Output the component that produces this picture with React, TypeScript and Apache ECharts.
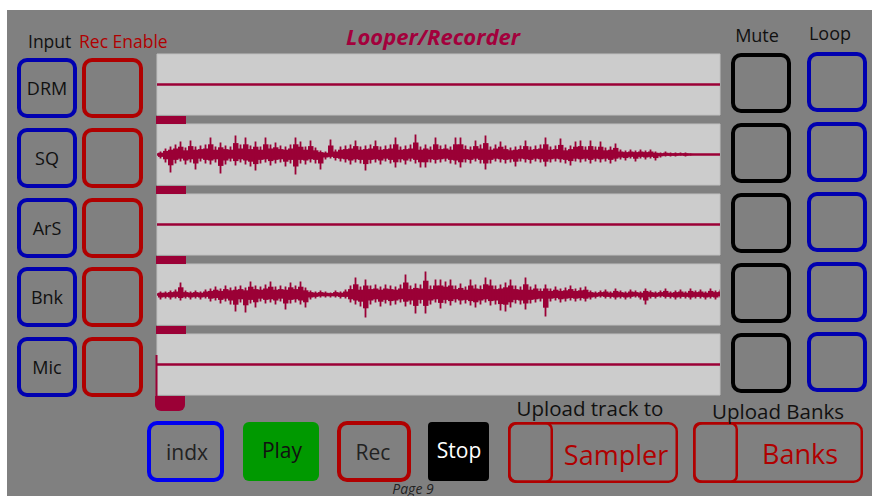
import React, { useEffect, useRef } from "react";
import * as echarts from "echarts";

// ---- data ----
const inputLabels = ["DRM", "SQ", "ArS", "Bnk", "Mic"];
const trackSpan = [-0.7, 111.9]; // bins shown per track

// SQ track waveform: upper peaks / lower troughs per bin
const sqPeaks = [
  3, 6, 8, 10, 13, 7, 14, 8, 9, 10, 17, 8, 12, 9, 8, 19, 10, 17, 9, 13,
  8, 17, 10, 12, 9, 8, 10, 17, 13, 8, 14, 7, 4, 3, 15, 5, 8, 9, 10, 14,
  8, 9, 10, 14, 8, 9, 10, 17, 8, 9, 10, 20, 8, 10, 8, 17, 9, 10, 8, 17,
  17, 9, 8, 14, 10, 19, 8, 10, 13, 9, 7, 8, 9, 14, 8, 9, 10, 17, 8, 9,
  16, 7, 9, 13, 14, 8, 14, 8, 13, 7, 8, 11, 5, 4, 5, 4, 5, 4, 5, 3,
  2, 3, 2, 2, 2, 2, 1,
];
const sqTroughs = [
  4, 8, 18, 9, 7, 10, 8, 15, 7, 9, 10, 8, 19, 10, 7, 11, 8, 10, 12, 16,
  9, 8, 11, 9, 8, 12, 9, 20, 9, 10, 8, 9, 15, 5, 4, 6, 7, 8, 10, 8,
  9, 16, 9, 8, 10, 7, 9, 13, 8, 10, 7, 9, 13, 13, 8, 9, 8, 7, 9, 10,
  13, 8, 9, 7, 9, 15, 9, 7, 8, 9, 8, 12, 7, 8, 9, 7, 8, 12, 8, 7,
  8, 9, 11, 7, 8, 7, 9, 7, 8, 7, 9, 7, 5, 6, 4, 7, 4, 5, 4, 6,
  3, 2, 2, 2, 1, 2, 1,
];

// Bnk track waveform
const bnkPeaks = [
  3, 3, 4, 5, 12, 4, 3, 4, 3, 5, 6, 8, 6, 9, 7, 8, 9, 7, 13, 9,
  8, 10, 13, 8, 9, 8, 12, 9, 13, 7, 4, 3, 4, 3, 2, 4, 3, 5, 9, 17,
  8, 15, 9, 10, 8, 10, 9, 8, 10, 20, 9, 11, 10, 23, 9, 15, 15, 13, 15, 9,
  11, 8, 15, 10, 9, 17, 15, 9, 10, 12, 15, 9, 8, 17, 8, 10, 6, 10, 6, 8,
  6, 7, 9, 6, 7, 8, 4, 3, 4, 5, 3, 6, 4, 3, 5, 4, 3, 6, 4, 3,
  4, 6, 3, 4, 5, 3, 6, 4, 5, 3, 6, 4, 5,
];
const bnkTroughs = [
  5, 4, 5, 4, 6, 4, 5, 4, 5, 4, 7, 6, 9, 7, 10, 17, 8, 18, 9, 13,
  7, 9, 8, 10, 7, 15, 9, 8, 10, 13, 5, 4, 3, 3, 3, 3, 4, 4, 8, 10,
  12, 23, 10, 8, 12, 9, 11, 10, 8, 12, 10, 19, 9, 19, 10, 8, 14, 9, 11, 8,
  10, 9, 11, 13, 10, 8, 11, 10, 16, 17, 13, 9, 10, 15, 9, 8, 7, 22, 7, 6,
  8, 7, 6, 7, 6, 7, 5, 4, 3, 4, 4, 5, 4, 5, 4, 3, 5, 10, 4, 4,
  3, 4, 4, 5, 4, 4, 5, 4, 4, 5, 4, 5, 3,
];

const WAVE = "#9b0036";
const BLUE = "#0000b0";
const RED = "#b00000";
const FONT = "'Open Sans'";

function box(x: number, y: number, w: number, h: number, stroke: string, lw: number, r = 8, fill = "none") {
  return {
    type: "rect",
    shape: { x: x + lw / 2, y: y + lw / 2, width: w - lw, height: h - lw, r },
    style: { fill, stroke, lineWidth: lw },
    z: 10,
  };
}
function label(text: string, x: number, y: number, size: number, fill: string, extra: any = {}) {
  return {
    type: "text",
    x,
    y,
    z: 20,
    style: {
      text,
      fill,
      font: `${extra.style || "normal"} ${extra.weight || "normal"} ${size}px ${extra.family || FONT}`,
      align: extra.align || "center",
      verticalAlign: "middle",
    },
  };
}

// draws one waveform bin: a thin full-range spike plus a wider, lower body
function renderBin(params: any, api: any) {
  const i = api.value(0);
  const lo = api.value(1);
  const hi = api.value(2);
  const top = api.coord([i, hi]);
  const bot = api.coord([i, lo]);
  const left = api.coord([i - 0.5, 0]);
  const right = api.coord([i + 0.5, 0]);
  const bodyTop = api.coord([i, hi * 0.6]);
  const bodyBot = api.coord([i, lo * 0.6]);
  const style = { fill: WAVE };
  return {
    type: "group",
    children: [
      {
        type: "rect",
        shape: { x: left[0], y: bodyTop[1], width: right[0] - left[0] + 0.5, height: bodyBot[1] - bodyTop[1] },
        style,
      },
      {
        type: "rect",
        shape: { x: top[0] - 0.9, y: top[1], width: 1.8, height: bot[1] - top[1] },
        style,
      },
    ],
  };
}

export default function App() {
  const ref = useRef<HTMLDivElement>(null);
  useEffect(() => {
    if (!ref.current) return;
    const chart = echarts.init(ref.current, null, { renderer: "svg" });
    const waves: Record<number, [number[], number[]]> = {
      1: [sqPeaks, sqTroughs],
      3: [bnkPeaks, bnkTroughs],
    };
    const series: any[] = [];
    inputLabels.forEach((name, k) => {
      series.push({
        type: "line",
        name: name + " base",
        xAxisIndex: k,
        yAxisIndex: k,
        data: [
          [trackSpan[0], 0],
          [trackSpan[1], 0],
        ],
        symbol: "none",
        lineStyle: { color: WAVE, width: 2.5 },
        silent: true,
      });
      const w = waves[k];
      if (w) {
        const [peaks, troughs] = w;
        series.push({
          type: "custom",
          name: name + " wave",
          xAxisIndex: k,
          yAxisIndex: k,
          data: peaks.map((p, i) => [i, -troughs[i], p]),
          renderItem: renderBin,
          silent: true,
          clip: true,
        });
      }
    });

    const g: any[] = [];
    g.push({ type: "rect", shape: { x: 0, y: 0, width: 872, height: 10 }, style: { fill: "#ffffff" }, z: 1 });
    g.push({ type: "rect", shape: { x: 0, y: 0, width: 7, height: 496 }, style: { fill: "#ffffff" }, z: 1 });

    g.push(label("Looper/Recorder", 433, 36, 22, "#a3003c", { style: "italic", weight: "bold" }));
    g.push(label("Input", 28, 41, 17.5, "#111111", { align: "left" }));
    g.push(label("Rec Enable", 79, 41, 17.5, RED, { align: "left" }));
    g.push(label("Mute", 757, 35, 18, "#111111"));
    g.push(label("Loop", 830, 33, 18, "#111111"));

    const inputTops = [58, 128, 198, 267, 337];
    const rightTops = [53, 123, 193, 263, 333];
    inputLabels.forEach((name, k) => {
      const t = inputTops[k];
      g.push(box(17, t, 60, 60, BLUE, 4));
      g.push(label(name, 47, t + 30, 18, "#111111"));
      g.push(box(82, t, 61, 60, RED, 4));
      const r = rightTops[k];
      g.push(box(731, r, 60, 60, "#000000", 4));
      g.push(box(807, r - 1, 60, 60, BLUE, 4));
      if (k < 4) {
        g.push({ type: "rect", shape: { x: 156, y: 116 + 70 * k, width: 30, height: 8 }, style: { fill: WAVE }, z: 10 });
      }
    });
    g.push({ type: "rect", shape: { x: 155, y: 396, width: 30, height: 15, r: [0, 0, 6, 6] }, style: { fill: WAVE }, z: 10 });
    g.push({ type: "line", shape: { x1: 156.5, y1: 355, x2: 156.5, y2: 397 }, style: { stroke: WAVE, lineWidth: 2 }, z: 10 });

    g.push(box(147, 421, 77, 61, "#0000f0", 4));
    g.push(label("indx", 187, 452, 21, "#222222"));
    g.push({ type: "rect", shape: { x: 243, y: 422, width: 76, height: 59, r: 6 }, style: { fill: "#009900" }, z: 10 });
    g.push(label("Play", 282, 450, 21, "#111111"));
    g.push(box(337, 421, 74, 61, RED, 4));
    g.push(label("Rec", 373, 452, 21, "#222222"));
    g.push({ type: "rect", shape: { x: 428, y: 422, width: 61, height: 59, r: 4 }, style: { fill: "#000000" }, z: 10 });
    g.push(label("Stop", 459, 450, 21, "#ffffff"));
    g.push(label("Page 9", 413, 488, 14, "#222222", { style: "italic" }));

    g.push(label("Upload track to", 590, 408, 20.5, "#111111"));
    g.push(box(508, 422, 170, 61, RED, 2.5, 8));
    g.push(box(508, 422, 45, 61, RED, 2.5, 6));
    g.push(label("Sampler", 616, 454, 27, RED));
    g.push(label("Upload Banks", 778, 411, 20.5, "#111111"));
    g.push(box(693, 422, 170, 61, RED, 2.5, 8));
    g.push(box(693, 422, 45, 61, RED, 2.5, 6));
    g.push(label("Banks", 800, 453, 27, RED));

    chart.setOption({
      animation: false,
      backgroundColor: "#808080",
      grid: inputLabels.map((_, k) => ({
        left: 157,
        top: 54 + 70 * k,
        width: 563,
        height: 61,
        show: true,
        backgroundColor: "#cccccc",
        borderWidth: 1,
        borderColor: "#c0c0c0",
      })),
      xAxis: inputLabels.map((_, k) => ({
        type: "value",
        gridIndex: k,
        min: trackSpan[0],
        max: trackSpan[1],
        show: false,
      })),
      yAxis: inputLabels.map((_, k) => ({
        type: "value",
        gridIndex: k,
        min: -30.5,
        max: 30.5,
        show: false,
      })),
      series,
      graphic: { elements: g },
    });
    return () => chart.dispose();
  }, []);
  return (
    <div
      ref={ref}
      style={{ position: "fixed", left: 0, top: 0, width: 872, height: 496 }}
    />
  );
}
